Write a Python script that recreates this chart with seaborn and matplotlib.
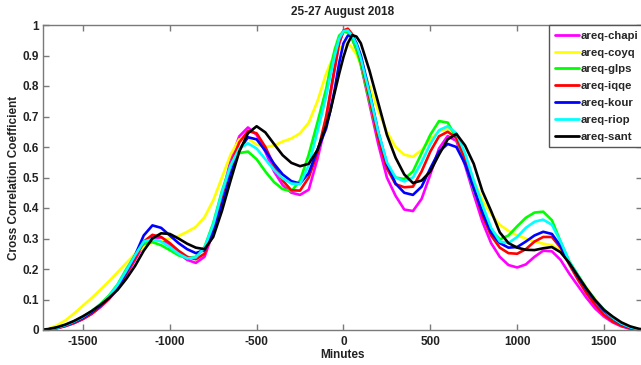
import matplotlib
matplotlib.use("Agg")
import matplotlib.pyplot as plt
import pandas as pd
import seaborn as sns

# ---- data ----
# shared time axis in minutes (extra samples around the main peak)
minutes = (list(range(-1750, -100, 50)) + [-100, -75, -50, -25, 0, 25, 50, 75, 100]
           + list(range(150, 1751, 50)))

chapi = [0.0, 0.002, 0.006, 0.013, 0.023, 0.036, 0.053, 0.075, 0.101, 0.135, 0.18, 0.23, 0.28, 0.305,
         0.298, 0.278, 0.252, 0.23, 0.22, 0.24, 0.32, 0.44, 0.555, 0.635, 0.664, 0.64, 0.585, 0.52,
         0.475, 0.45, 0.443, 0.46, 0.56,
         0.68, 0.775, 0.86, 0.94, 0.98, 0.98, 0.955, 0.92, 0.87,
         0.74, 0.61, 0.5, 0.44, 0.395,
         0.39, 0.43, 0.51, 0.595, 0.636, 0.62, 0.54, 0.445, 0.355, 0.285, 0.24, 0.213, 0.205, 0.215,
         0.24, 0.26, 0.258, 0.23, 0.185, 0.145, 0.105, 0.07, 0.044, 0.025, 0.012, 0.004, 0.001, 0.0]
coyq = [0.0, 0.004, 0.015, 0.032, 0.055, 0.08, 0.105, 0.132, 0.16, 0.19, 0.22, 0.25, 0.272, 0.288,
        0.295, 0.3, 0.308, 0.322, 0.338, 0.37, 0.425, 0.5, 0.575, 0.625, 0.628, 0.608, 0.6, 0.605,
        0.618, 0.628, 0.645, 0.68, 0.75,
        0.84, 0.875, 0.9, 0.922, 0.935, 0.94, 0.925, 0.903, 0.87,
        0.8, 0.72, 0.65, 0.6, 0.575,
        0.568, 0.59, 0.625, 0.652, 0.66, 0.64, 0.57, 0.49, 0.425, 0.38, 0.345, 0.325, 0.31, 0.3,
        0.29, 0.283, 0.278, 0.26, 0.225, 0.18, 0.138, 0.1, 0.068, 0.042, 0.023, 0.01, 0.003, 0.0]
glps = [0.0, 0.002, 0.007, 0.016, 0.028, 0.043, 0.062, 0.085, 0.113, 0.15, 0.2, 0.245, 0.283, 0.288,
        0.278, 0.262, 0.245, 0.236, 0.24, 0.272, 0.35, 0.455, 0.54, 0.58, 0.585, 0.56, 0.52, 0.485,
        0.462, 0.455, 0.49, 0.575, 0.68,
        0.79, 0.86, 0.92, 0.965, 0.978, 0.975, 0.955, 0.918, 0.87,
        0.75, 0.63, 0.54, 0.5, 0.495,
        0.52, 0.58, 0.64, 0.685, 0.68, 0.63, 0.55, 0.46, 0.39, 0.33, 0.297, 0.31, 0.34, 0.368,
        0.385, 0.388, 0.36, 0.29, 0.225, 0.18, 0.135, 0.098, 0.066, 0.04, 0.021, 0.009, 0.002, 0.0]
iqqe = [0.0, 0.002, 0.006, 0.013, 0.023, 0.036, 0.053, 0.076, 0.103, 0.138, 0.185, 0.235, 0.29, 0.312,
        0.305, 0.285, 0.26, 0.24, 0.232, 0.25, 0.33, 0.44, 0.54, 0.615, 0.652, 0.645, 0.6, 0.54,
        0.49, 0.458, 0.457, 0.5, 0.58,
        0.7, 0.78, 0.86, 0.94, 0.982, 0.988, 0.97, 0.935, 0.885,
        0.76, 0.63, 0.53, 0.478, 0.468,
        0.47, 0.52, 0.585, 0.635, 0.65, 0.63, 0.56, 0.47, 0.375, 0.31, 0.27, 0.252, 0.25, 0.265,
        0.29, 0.305, 0.305, 0.27, 0.215, 0.165, 0.12, 0.082, 0.05, 0.028, 0.014, 0.005, 0.001, 0.0]
kour = [0.0, 0.002, 0.007, 0.015, 0.026, 0.04, 0.058, 0.08, 0.106, 0.14, 0.19, 0.245, 0.31, 0.343,
        0.335, 0.31, 0.285, 0.265, 0.252, 0.262, 0.32, 0.41, 0.51, 0.59, 0.632, 0.625, 0.588, 0.545,
        0.51, 0.488, 0.48, 0.515, 0.59,
        0.66, 0.72, 0.79, 0.875, 0.94, 0.965, 0.965, 0.94, 0.9,
        0.78, 0.65, 0.545, 0.48, 0.45,
        0.443, 0.47, 0.53, 0.585, 0.61, 0.6, 0.545, 0.465, 0.385, 0.32, 0.285, 0.27, 0.272, 0.29,
        0.31, 0.322, 0.315, 0.275, 0.22, 0.175, 0.132, 0.095, 0.063, 0.038, 0.02, 0.008, 0.002, 0.0]
riop = [0.0, 0.002, 0.007, 0.016, 0.028, 0.043, 0.062, 0.083, 0.11, 0.148, 0.195, 0.245, 0.29, 0.298,
        0.29, 0.272, 0.25, 0.235, 0.238, 0.27, 0.345, 0.45, 0.54, 0.595, 0.612, 0.595, 0.56, 0.525,
        0.497, 0.48, 0.478, 0.54, 0.65,
        0.765, 0.835, 0.9, 0.955, 0.98, 0.982, 0.965, 0.935, 0.89,
        0.775, 0.65, 0.55, 0.5, 0.487,
        0.5, 0.55, 0.61, 0.655, 0.668, 0.645, 0.58, 0.49, 0.41, 0.335, 0.29, 0.285, 0.305, 0.335,
        0.355, 0.362, 0.345, 0.29, 0.225, 0.18, 0.135, 0.098, 0.066, 0.04, 0.021, 0.009, 0.002, 0.0]
sant = [0.0, 0.003, 0.009, 0.018, 0.03, 0.045, 0.062, 0.082, 0.105, 0.132, 0.168, 0.21, 0.26, 0.3,
        0.317, 0.315, 0.3, 0.283, 0.27, 0.265, 0.305, 0.39, 0.49, 0.585, 0.645, 0.668, 0.648, 0.61,
        0.573, 0.548, 0.537, 0.545, 0.59,
        0.67, 0.72, 0.78, 0.84, 0.895, 0.94, 0.967, 0.962, 0.94,
        0.85, 0.745, 0.64, 0.565, 0.51,
        0.482, 0.49, 0.52, 0.575, 0.625, 0.643, 0.605, 0.545, 0.455, 0.39, 0.32, 0.285, 0.27,
        0.263, 0.262, 0.268, 0.272, 0.255, 0.22, 0.177, 0.135, 0.097, 0.066, 0.044, 0.025, 0.012,
        0.004, 0.0]

stations = ["areq-chapi", "areq-coyq", "areq-glps", "areq-iqqe", "areq-kour", "areq-riop", "areq-sant"]
series = [chapi, coyq, glps, iqqe, kour, riop, sant]
colors = ["#ff00ff", "#ffff00", "#00ff00", "#ff0000", "#0000ff", "#00ffff", "#000000"]

x_ticks = [-1500, -1000, -500, 0, 500, 1000, 1500]
y_ticks = [0, 0.1, 0.2, 0.3, 0.4, 0.5, 0.6, 0.7, 0.8, 0.9, 1]
y_tick_labels = ["0", "0.1", "0.2", "0.3", "0.4", "0.5", "0.6", "0.7", "0.8", "0.9", "1"]

df = pd.DataFrame({
    "Minutes": minutes * len(stations),
    "value": [v for s in series for v in s],
    "station": [st for st in stations for _ in minutes],
})

# ---- plot ----
sns.set_style("ticks")
plt.rcParams["font.family"] = ["Liberation Sans", "DejaVu Sans"]
plt.rcParams["font.weight"] = "bold"

fig = plt.figure(figsize=(6.41, 3.65), dpi=100)
W, H = 641, 365
ax = fig.add_axes([43 / W, 35 / H, (641.5 - 43) / W, 305 / H])

sns.lineplot(data=df, x="Minutes", y="value", hue="station", hue_order=stations,
             palette=dict(zip(stations, colors)), linewidth=1.9, sort=False,
             estimator=None, ax=ax)

ax.set_xlim(-1730, 1716)
ax.set_ylim(0, 1)
ax.set_xticks(x_ticks)
ax.set_xticklabels([str(t) for t in x_ticks])
ax.set_yticks(y_ticks)
ax.set_yticklabels(y_tick_labels)

spine_col = "#7a7a7a"
for s in ax.spines.values():
    s.set_visible(True)
    s.set_color(spine_col)
    s.set_linewidth(1.0)
ax.tick_params(direction="in", length=4, width=1.0, color=spine_col,
               top=True, right=True, labelsize=8.5, labelcolor="#222222")
ax.tick_params(axis="x", pad=4)
ax.tick_params(axis="y", pad=3)
for lab in ax.get_xticklabels() + ax.get_yticklabels():
    lab.set_fontweight("bold")

ax.set_xlabel("Minutes", fontsize=8.5, fontweight="bold", labelpad=1, color="#222222")
ax.set_ylabel("Cross Correlation Coefficient", fontsize=8.5, fontweight="bold", labelpad=2,
              color="#222222")
ax.set_title("25-27 August 2018", fontsize=8.5, fontweight="bold", pad=7, color="#222222")

handles, labels = ax.get_legend_handles_labels()
leg = ax.legend(handles, labels, loc="upper left", bbox_to_anchor=(549 / W, 1 - 25 / H),
                bbox_transform=fig.transFigure, frameon=True, fancybox=False,
                edgecolor="#555555", framealpha=1, fontsize=8.2, handlelength=2.1,
                handletextpad=0.2, labelspacing=0.6, borderpad=0.5, borderaxespad=0)
leg.get_frame().set_linewidth(1.0)
for t in leg.get_texts():
    t.set_fontweight("bold")
for l in leg.get_lines():
    l.set_linewidth(2.0)

fig.savefig("out.png", dpi=100)
